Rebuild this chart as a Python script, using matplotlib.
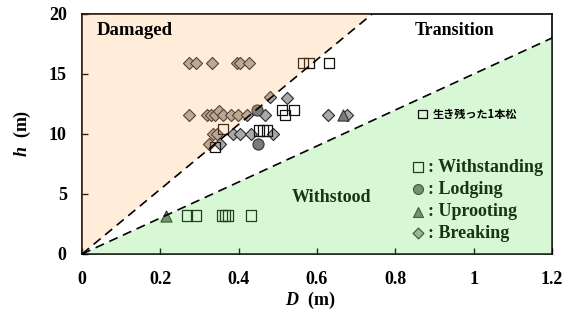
import matplotlib
matplotlib.use('Agg')
import matplotlib.pyplot as plt
from matplotlib.patches import Polygon

# ---- data ----
withstanding_D = [0.564, 0.580, 0.631, 0.511, 0.518, 0.541, 0.360, 0.452, 0.462, 0.472,
                  0.340, 0.268, 0.291, 0.357, 0.365, 0.373, 0.431]
withstanding_h = [15.9, 15.9, 15.9, 12.0, 11.6, 12.0, 10.4, 10.3, 10.3, 10.3,
                  8.9, 3.2, 3.2, 3.2, 3.2, 3.2, 3.2]
lodging_D = [0.447, 0.449]
lodging_h = [12.0, 9.2]
uprooting_D = [0.214, 0.666]
uprooting_h = [3.2, 11.6]
breaking_D = [0.273, 0.291, 0.332, 0.396, 0.403, 0.426,
              0.273, 0.319, 0.330, 0.340, 0.350, 0.360, 0.380, 0.398, 0.421, 0.467, 0.628, 0.677,
              0.480, 0.523,
              0.334, 0.345, 0.386, 0.403, 0.431, 0.488,
              0.324, 0.352]
breaking_h = [15.9, 15.9, 15.9, 15.9, 15.9, 15.9,
              11.6, 11.6, 11.6, 11.6, 11.9, 11.6, 11.6, 11.6, 11.6, 11.6, 11.6, 11.6,
              13.1, 13.0,
              10.0, 10.0, 10.0, 10.0, 10.0, 10.0,
              9.2, 9.2]
upper_slope = 27.0   # boundary Damaged / Transition
lower_slope = 15.0   # boundary Transition / Withstood
x_ticks = [0, 0.2, 0.4, 0.6, 0.8, 1.0, 1.2]
x_tick_labels = ['0', '0.2', '0.4', '0.6', '0.8', '1', '1.2']
y_ticks = [0, 5, 10, 15, 20]
legend_labels = [': Withstanding', ': Lodging', ': Uprooting', ': Breaking']
single_pine_label = '生き残った1本松'

plt.rcParams['font.family'] = ['Liberation Serif', 'DejaVu Serif']
plt.rcParams['font.weight'] = 'bold'
plt.rcParams['mathtext.fontset'] = 'custom'
plt.rcParams['mathtext.it'] = 'Liberation Serif:italic:bold'
plt.rcParams['mathtext.rm'] = 'Liberation Serif:bold'

fig = plt.figure(figsize=(5.72, 3.27), dpi=100)
ax = fig.add_axes([82/572, 1 - 254/327, 470/572, 240/327])
xmax, ymax = 1.2, 20
ax.set_xlim(0, xmax)
ax.set_ylim(0, ymax)

# markers (under the tinted overlays)
sq = dict(marker='s', s=55, facecolors='none', edgecolors='#111111', linewidths=0.9, zorder=2)
ci = dict(marker='o', s=64, facecolors='#7a7a7a', edgecolors='#333333', linewidths=0.8, zorder=2)
tr = dict(marker='^', s=64, facecolors='#7a7a7a', edgecolors='#333333', linewidths=0.8, zorder=2)
di = dict(marker='D', s=38, facecolors='#a9a9a9', edgecolors='#2a2a2a', linewidths=0.8, zorder=2)

ax.scatter(breaking_D, breaking_h, **di)
ax.scatter(withstanding_D, withstanding_h, **sq)
ax.scatter(lodging_D, lodging_h, **ci)
ax.scatter(uprooting_D, uprooting_h, **tr)

# tinted regions
ax.add_patch(Polygon([(0, 0), (0, ymax), (ymax / upper_slope, ymax)], closed=True,
                     facecolor='#ffa850', alpha=0.21, edgecolor='none', zorder=3))
ax.add_patch(Polygon([(0, 0), (xmax, lower_slope * xmax), (xmax, 0)], closed=True,
                     facecolor='#5fe04f', alpha=0.24, edgecolor='none', zorder=3))

# boundary lines
ax.plot([0, ymax / upper_slope], [0, ymax], color='black', lw=1.2, dashes=(5.5, 3.5), zorder=4)
ax.plot([0, xmax], [0, lower_slope * xmax], color='black', lw=1.2, dashes=(5.5, 3.5), zorder=4)

# region labels
ax.text(0.038, 18.6, 'Damaged', fontsize=13.5, fontweight='bold', va='center', ha='left', zorder=5)
ax.text(0.85, 18.6, 'Transition', fontsize=13, fontweight='bold', va='center', ha='left', zorder=5)
ax.text(0.536, 4.75, 'Withstood', fontsize=13, fontweight='bold', va='center', ha='left', zorder=2)

# single surviving pine label
ax.scatter([0.87], [11.67], marker='s', s=40, facecolors='none', edgecolors='#111111',
           linewidths=0.9, zorder=5)
ax.text(0.896, 11.67, single_pine_label, fontsize=8, fontweight='bold',
        family=['Noto Sans CJK JP', 'DejaVu Sans'], va='center', ha='left', zorder=5)

# manual legend (inside green region, beneath tint)
leg_styles = [sq, ci, tr, di]
leg_y = [7.25, 5.4, 3.5, 1.75]
for st, yy, lab in zip(leg_styles, leg_y, legend_labels):
    kw = dict(st)
    kw['s'] = kw['s'] * 0.8
    ax.scatter([0.858], [yy], **kw)
    ax.text(0.883, yy, lab, fontsize=13, fontweight='bold', va='center', ha='left', zorder=2)

ax.set_xticks(x_ticks)
ax.set_xticklabels(x_tick_labels)
ax.set_yticks(y_ticks)
ax.tick_params(direction='in', length=4, width=1, labelsize=13, pad=12)
ax.tick_params(axis='y', pad=11)
for lab in ax.get_xticklabels() + ax.get_yticklabels():
    lab.set_fontweight('bold')
for sp in ax.spines.values():
    sp.set_linewidth(1.2)
    sp.set_zorder(2.5)

fig.text(310/572, 1 - 300/327, r'$D$  (m)', fontsize=13, ha='center', va='center')
fig.text(22/572, 1 - 133/327, r'$h$  (m)', fontsize=13, ha='center', va='center', rotation=90)

fig.savefig('out.png', dpi=100)
